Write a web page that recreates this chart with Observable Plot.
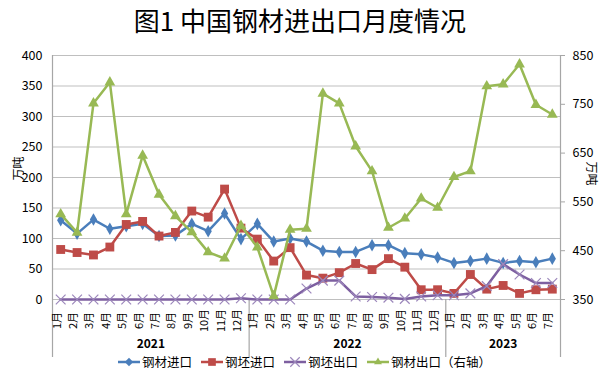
<!DOCTYPE html>
<html><head><meta charset="utf-8">
<script src="https://cdn.jsdelivr.net/npm/d3@7"></script>
<script src="https://cdn.jsdelivr.net/npm/@observablehq/plot@0.6"></script>
<style>
body{margin:0;background:#fff;}
#wrap{position:relative;width:600px;height:379px;overflow:hidden;font-family:"Noto Sans CJK SC","Noto Sans",sans-serif;color:#000;}
#title{position:absolute;top:-1px;left:0;width:600px;text-align:center;font-size:26px;line-height:42px;z-index:2;}
#legend{position:absolute;top:352px;left:0;width:600px;display:flex;justify-content:center;align-items:center;font-size:12.5px;z-index:2;padding-left:8px;box-sizing:border-box;}
#legend .it{display:flex;align-items:center;margin:0 4px;}
#legend svg{margin-right:1px;}
</style></head>
<body>
<div id="wrap">
<div id="title">图1 中国钢材进出口月度情况</div>
<div id="chart"></div>
<div id="legend"></div>
</div>
<script>
const years = ["2021", "2022", "2023"];
const monthsPerYear = [12, 12, 7];
const monthLabels = ["1月","2月","3月","4月","5月","6月","7月","8月","9月","10月","11月","12月"];
const steelImport = [130,108,131,116,120,124,104,105,124,112,141,99, 124,95,100,95,80,78,78,89,89,76,74,69, 60,63,67,60,63,61,67];
const billetImport = [82,77,73,86,123,128,104,110,145,135,181,117, 99,63,85,40,35,44,59,49,67,53,16,16, 10,41,17,23,10,16,17];
const billetExport = [0,0,0,0,0,0,0,0,0,0,0,2, 0,0,0,18,31,31,5,4,3,1,5,7, 7,10,22,58,41,27,27];
const steelExport = [525,487,752,795,525,645,565,521,488,447,434,501, 457,357,493,495,772,752,664,613,497,516,557,538, 601,613,787,791,832,749,729];
const leftTicks = [0,50,100,150,200,250,300,350,400];
const rightTicks = [350,450,550,650,750,850];
const seriesNames = ["钢材进口","钢坯进口","钢坯出口","钢材出口（右轴）"];
const colors = ["#4A7EBB","#BE4B48","#7D5FA0","#98B954"];

const rMin = 350, rMax = 850, lMax = 400;
const toLeft = v => (v - rMin) * lMax / (rMax - rMin);
const fromLeft = v => v * (rMax - rMin) / lMax + rMin;

const rows = [];
let k = 0;
years.forEach((y, yi) => {
  for (let m = 0; m < monthsPerYear[yi]; m++) {
    rows.push({i: k, pos: k + 0.5, month: monthLabels[m], year: y,
      a: steelImport[k], b: billetImport[k], c: billetExport[k], d: steelExport[k], dl: toLeft(steelExport[k])});
    k++;
  }
});
const n = rows.length;
const yearRows = [];
let start = 0;
years.forEach((y, yi) => { yearRows.push({year: y, center: start + monthsPerYear[yi] / 2, start}); start += monthsPerYear[yi]; });
const inner = yearRows.slice(1).map(d => d.start);

const mt = 55, mb = 80, H = 379;
const innerH = H - mt - mb;
const gridColor = "#BFBFBF";

const chart = Plot.plot({
  width: 600, height: H,
  marginTop: mt, marginBottom: mb, marginLeft: 52, marginRight: 40,
  style: {fontFamily: '"Noto Sans CJK SC","Noto Sans",sans-serif', fontSize: "12px", color: "#000", background: "transparent"},
  x: {type: "linear", domain: [0, n], axis: null},
  y: {domain: [0, lMax], axis: null},
  marks: [
    Plot.gridY(leftTicks, {stroke: gridColor, strokeOpacity: 1, strokeWidth: 1.2}),
    Plot.ruleX([0, n], {stroke: "#A6A6A6", strokeWidth: 1.2, insetBottom: -58}),
    Plot.ruleX(inner, {stroke: "#A6A6A6", strokeWidth: 1.2, insetTop: innerH, insetBottom: -58}),
    Plot.axisY({anchor: "left", ticks: leftTicks, tickSize: 0, tickPadding: 10, label: null, fontSize: 12.5}),
    Plot.axisY({anchor: "right", ticks: rightTicks.map(toLeft), tickFormat: d => String(Math.round(fromLeft(d))), tickSize: 4, tickPadding: 8, stroke: "#A6A6A6", label: null, fontSize: 12.5}),
    Plot.text(rows, {x: "pos", text: "month", frameAnchor: "bottom", dy: 21, rotate: -90, textAnchor: "middle", fontSize: 11}),
    Plot.text(yearRows, {x: "center", text: "year", frameAnchor: "bottom", dy: 48, fontSize: 12, fontWeight: "bold"}),
    Plot.text(["万吨"], {frameAnchor: "left", textAnchor: "middle", dx: -33, dy: -9, rotate: -90, fontSize: 12}),
    Plot.text(["万吨"], {frameAnchor: "right", textAnchor: "middle", dx: 30, dy: -4, rotate: 90, fontSize: 12}),
    Plot.line(rows, {x: "pos", y: "a", stroke: colors[0], strokeWidth: 2.5}),
    Plot.dot(rows, {x: "pos", y: "a", symbol: "diamond", r: 3.8, fill: colors[0]}),
    Plot.line(rows, {x: "pos", y: "b", stroke: colors[1], strokeWidth: 2.5}),
    Plot.dot(rows, {x: "pos", y: "b", symbol: "square", r: 5, fill: colors[1]}),
    Plot.line(rows, {x: "pos", y: "c", stroke: colors[2], strokeWidth: 2.5}),
    Plot.dot(rows, {x: "pos", y: "c", symbol: "times", r: 4.5, stroke: "#9C87BB", strokeWidth: 1.2}),
    Plot.line(rows, {x: "pos", y: "dl", stroke: colors[3], strokeWidth: 2.5}),
    Plot.dot(rows, {x: "pos", y: "dl", symbol: "triangle", r: 4, fill: colors[3]})
  ]
});
document.getElementById("chart").appendChild(chart);

// legend
const syms = ["diamond", "square", "times", "triangle"];
const lg = document.getElementById("legend");
seriesNames.forEach((name, i) => {
  const it = document.createElement("div");
  it.className = "it";
  const s = d3.create("svg").attr("width", 24).attr("height", 14);
  s.append("line").attr("x1", 1).attr("x2", 23).attr("y1", 7).attr("y2", 7).attr("stroke", colors[i]).attr("stroke-width", 2.5);
  const sym = {diamond: d3.symbolDiamond2, square: d3.symbolSquare2, times: d3.symbolTimes, triangle: d3.symbolTriangle2}[syms[i]];
  const size = [45, 75, 60, 45][i];
  const p = s.append("path").attr("d", d3.symbol(sym, size)()).attr("transform", "translate(12,7)");
  if (syms[i] === "times") p.attr("fill", "none").attr("stroke", "#9C87BB").attr("stroke-width", 1.2);
  else p.attr("fill", colors[i]);
  it.appendChild(s.node());
  const t = document.createElement("span");
  t.textContent = name;
  it.appendChild(t);
  lg.appendChild(it);
});
</script>
</body></html>
